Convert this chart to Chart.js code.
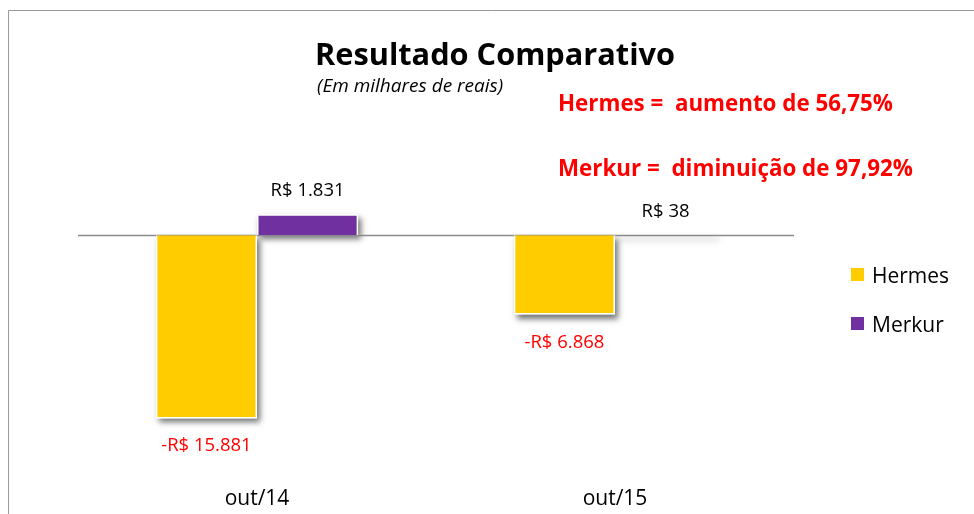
<!DOCTYPE html>
<html><head><meta charset="utf-8">
<script src="https://cdn.jsdelivr.net/npm/chart.js@4/dist/chart.umd.min.js"></script>
<style>html,body{margin:0;padding:0;background:#fff;}#wrap{width:974px;height:514px;}</style>
</head><body><div id="wrap"><canvas id="c" width="974" height="514"></canvas></div>
<script>
const categories = ['out/14', 'out/15'];
const seriesNames = ['Hermes', 'Merkur'];
const hermesValues = [-15881, -6868];
const merkurValues = [1831, 38];
const seriesColors = ['#FFCC00', '#7030A0'];
const titleText = 'Resultado Comparativo';
const subtitleText = '(Em milhares de reais)';
const notes = ['Hermes =  aumento de 56,75%', 'Merkur =  diminuição de 97,92%'];

const FONT = '"Open Sans", Lato, sans-serif';
function fmt(v){
  const s = Math.abs(v).toLocaleString('pt-BR');
  return (v < 0 ? '-R$ ' : 'R$ ') + s;
}

const decor = {
  id: 'decor',
  beforeDatasetsDraw(chart){
    const ctx = chart.ctx, y = chart.scales.y;
    // soft drop shadows under each bar, from the bar elements' own geometry
    ctx.save();
    ctx.shadowColor = 'rgba(0,0,0,0.55)';
    ctx.shadowBlur = 6; ctx.shadowOffsetX = 3; ctx.shadowOffsetY = 4;
    ctx.fillStyle = '#ffffff';
    chart.data.datasets.forEach((ds, i) => {
      chart.getDatasetMeta(i).data.forEach(bar => {
        const p = bar.getProps(['x', 'y', 'base', 'width'], true);
        const top = Math.min(p.y, p.base), h = Math.max(Math.abs(p.base - p.y), 1);
        ctx.fillRect(p.x - p.width / 2, top, p.width, h);
      });
    });
    ctx.restore();
    const z = Math.round(y.getPixelForValue(0)) + 0.5;
    ctx.save();
    ctx.strokeStyle = '#8c8c8c'; ctx.lineWidth = 1.3;
    ctx.beginPath(); ctx.moveTo(chart.chartArea.left, z); ctx.lineTo(chart.chartArea.right, z); ctx.stroke();
    ctx.restore();
  },
  afterDatasetsDraw(chart){
    const ctx = chart.ctx;
    ctx.save();
    // frame
    ctx.strokeStyle = '#9a9a9a'; ctx.lineWidth = 1;
    ctx.beginPath(); ctx.moveTo(8.5, 514); ctx.lineTo(8.5, 10.5); ctx.lineTo(974, 10.5); ctx.stroke();
    // titles
    ctx.fillStyle = '#000'; ctx.textBaseline = 'alphabetic'; ctx.textAlign = 'left';
    ctx.font = 'bold 31px ' + FONT;
    ctx.fillText(titleText, 315, 65, 360);
    ctx.font = 'italic 19px ' + FONT;
    ctx.fillText(subtitleText, 317, 92, 191);
    ctx.fillStyle = '#FF0000';
    ctx.font = 'bold 22.5px ' + FONT;
    ctx.fillText(notes[0], 558, 111, 335);
    ctx.fillText(notes[1], 558, 176, 355);
    // value labels
    ctx.font = '18.5px ' + FONT; ctx.textAlign = 'center';
    chart.data.datasets.forEach((ds, i) => {
      const meta = chart.getDatasetMeta(i);
      meta.data.forEach((bar, j) => {
        const v = ds.data[j];
        if (v >= 0) { ctx.fillStyle = '#000'; ctx.fillText(fmt(v), bar.x, bar.y - 18, 76); }
        else { ctx.fillStyle = '#FF0000'; ctx.fillText(fmt(v), bar.x, bar.y + 33, 94); }
      });
    });
    // legend
    ctx.textAlign = 'left';
    ctx.font = '21px ' + FONT;
    chart.data.datasets.forEach((ds, i) => {
      const top = 268 + i * 49;
      ctx.fillStyle = ds.backgroundColor;
      ctx.fillRect(851, top, 13, 13);
      ctx.fillStyle = '#000';
      ctx.fillText(ds.label, 872, top + 15, 78);
    });
    ctx.restore();
  }
};

new Chart(document.getElementById('c'), {
  type: 'bar',
  data: {
    labels: categories,
    datasets: [
      { label: seriesNames[0], data: hermesValues, backgroundColor: seriesColors[0], borderColor: '#ffffff', borderWidth: 1.5 },
      { label: seriesNames[1], data: merkurValues, backgroundColor: seriesColors[1], borderColor: '#ffffff', borderWidth: 1.5 }
    ]
  },
  options: {
    responsive: false,
    animation: false,
    events: [],
    layout: { padding: { left: 78, right: 180, top: 143, bottom: 0 } },
    datasets: { bar: { barPercentage: 1, categoryPercentage: 0.565 } },
    plugins: { legend: { display: false }, title: { display: false }, tooltip: { enabled: false } },
    scales: {
      x: {
        grid: { display: false, drawTicks: false, tickLength: 0 },
        border: { display: false },
        ticks: { color: '#000', font: { family: FONT, size: 21 }, padding: 20 },
        afterFit(s){ s.height = 48; }
      },
      y: { display: false, min: -20000, max: 8000 }
    }
  },
  plugins: [decor]
});
</script></body></html>
